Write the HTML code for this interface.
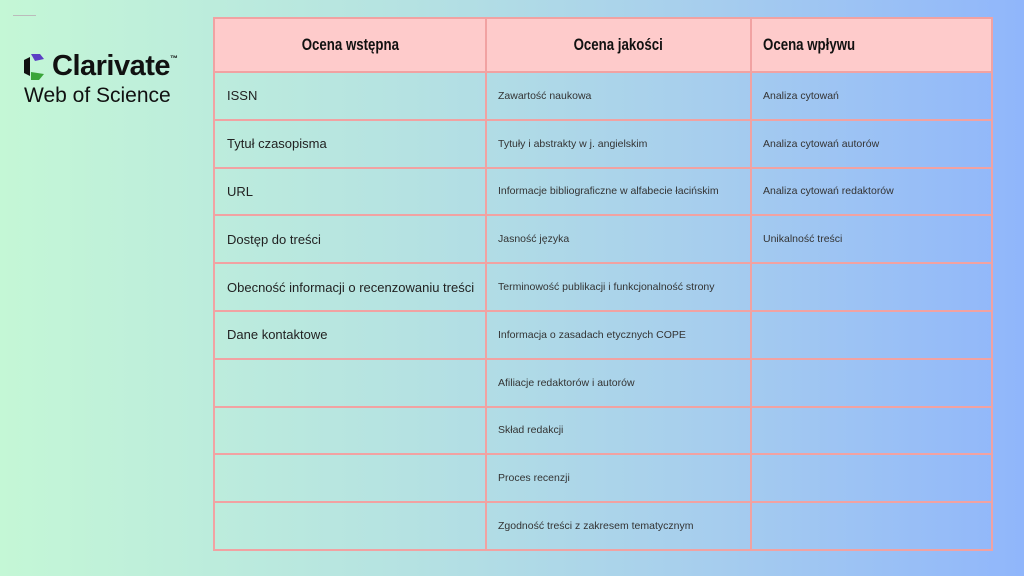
<!DOCTYPE html>
<html><head><meta charset="utf-8"><style>
body{margin:0;width:1024px;height:576px;overflow:hidden;background:linear-gradient(90deg,#c4f7d6 0%,#b5e2e2 40%,#a6cdee 70%,#90b6fb 100%);font-family:"Liberation Sans",sans-serif;position:relative}
table{position:absolute;left:213px;top:17px;border-collapse:collapse;table-layout:fixed;width:778px}
td,th{border:2px solid #f1a2a2;padding:0;color:#222;box-sizing:border-box;overflow:hidden;white-space:nowrap}
tr{height:47.8px}
tr.h{height:54px}
th{background:#fecbcb;font-weight:bold;font-size:17px;color:#111}
th span{display:inline-block;transform:scaleX(0.78);transform-origin:center}
th.l span{transform-origin:left}
td{font-size:10.5px;padding-left:11px;color:#333}
td.c1{font-size:13px;padding-left:12px;color:#222}
</style></head><body>
<div style="position:absolute;left:13px;top:15px;width:23px;height:1px;background:#bbb"></div>
<svg style="position:absolute;left:22px;top:52px" width="26" height="30" viewBox="0 0 26 30">
<path d="M9 2 L18 2 L22 7 L13 9 Z" fill="#5b3fc4"/>
<path d="M2 8 L8 5 L8 24 L2 21 Z" fill="#111"/>
<path d="M9 20 L22 22 L17 28 L9 28 Z" fill="#3aa53a"/>
</svg>
<div style="position:absolute;left:52px;top:50px;font-size:29px;font-weight:bold;color:#111;letter-spacing:-0.5px">Clarivate<span style="font-size:8px;vertical-align:top;position:relative;top:4px">™</span></div>
<div style="position:absolute;left:24px;top:84px;font-size:21px;color:#111">Web of Science</div>
<table>
<colgroup><col style="width:272px"><col style="width:265px"><col style="width:241px"></colgroup>
<tr class="h"><th><span>Ocena wstępna</span></th><th><span>Ocena jakości</span></th><th class="l" style="text-align:left;padding-left:11px"><span>Ocena wpływu</span></th></tr>
<tr><td class="c1">ISSN</td><td>Zawartość naukowa</td><td>Analiza cytowań</td></tr>
<tr><td class="c1">Tytuł czasopisma</td><td>Tytuły i abstrakty w j. angielskim</td><td>Analiza cytowań autorów</td></tr>
<tr><td class="c1">URL</td><td>Informacje bibliograficzne w alfabecie łacińskim</td><td>Analiza cytowań redaktorów</td></tr>
<tr><td class="c1">Dostęp do treści</td><td>Jasność języka</td><td>Unikalność treści</td></tr>
<tr><td class="c1">Obecność informacji o recenzowaniu treści</td><td>Terminowość publikacji i funkcjonalność strony</td><td></td></tr>
<tr><td class="c1">Dane kontaktowe</td><td>Informacja o zasadach etycznych COPE</td><td></td></tr>
<tr><td class="c1"></td><td>Afiliacje redaktorów i autorów</td><td></td></tr>
<tr><td class="c1"></td><td>Skład redakcji</td><td></td></tr>
<tr><td class="c1"></td><td>Proces recenzji</td><td></td></tr>
<tr><td class="c1"></td><td>Zgodność treści z zakresem tematycznym</td><td></td></tr>
</table>
</body></html>
